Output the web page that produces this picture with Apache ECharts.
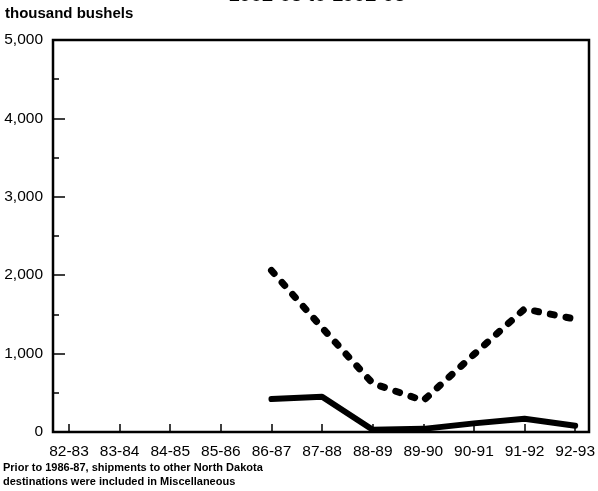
<!DOCTYPE html>
<html>
<head>
<meta charset="utf-8">
<script src="https://cdn.jsdelivr.net/npm/echarts@6/dist/echarts.min.js"></script>
<style>
html,body{margin:0;padding:0;background:#fff;}
#chart{width:598px;height:491px;}
</style>
</head>
<body>
<div id="chart"></div>
<script>
var categories = ['82-83','83-84','84-85','85-86','86-87','87-88','88-89','89-90','90-91','91-92','92-93'];
var otherNDValues = [null,null,null,null,420,450,30,40,110,170,80];
var dottedValues = [null,null,null,null,2060,1330,620,400,990,1570,1440];
var yTicks = [0,1000,2000,3000,4000,5000];
var titleText = '1982-83 to 1992-93';
var unitText = 'thousand bushels';
var noteText = 'Prior to 1986-87, shipments to other North Dakota\ndestinations were included in Miscellaneous';

var FONT = '"Liberation Sans", Arial, sans-serif';
var chart = echarts.init(document.getElementById('chart'), null, {renderer:'canvas'});
chart.setOption({
  animation:false,
  backgroundColor:'#fff',
  grid:{left:69, right:18, top:40, bottom:59},
  xAxis:{
    type:'category', data:categories, boundaryGap:false,
    axisLine:{show:false},
    axisTick:{show:true, inside:true, length:8, lineStyle:{color:'#000', width:1.5}},
    axisLabel:{color:'#000', fontFamily:FONT, fontSize:15.5, margin:12, interval:0},
    splitLine:{show:false}
  },
  yAxis:{
    type:'value', min:yTicks[0], max:yTicks[yTicks.length-1], interval:1000, offset:16,
    axisLine:{show:false},
    axisTick:{show:true, inside:true, length:12, lineStyle:{color:'#000', width:1.5}},
    minorTick:{show:true, splitNumber:2, length:6, lineStyle:{color:'#000', width:1.5}},
    axisLabel:{color:'#000', fontFamily:FONT, fontSize:15.5, margin:10,
      formatter:function(v){return v.toLocaleString('en-US');}},
    splitLine:{show:false}
  },
  series:[
    {type:'line', data:dottedValues, symbol:'none', connectNulls:false,
     lineStyle:{color:'#000', width:7, type:[4,12], cap:'round'}},
    {type:'line', data:otherNDValues, symbol:'none', connectNulls:false,
     lineStyle:{color:'#000', width:6, cap:'round', join:'round'}}
  ],
  graphic:[
    {type:'rect', shape:{x:53, y:40, width:536, height:392}, style:{fill:null, stroke:'#000', lineWidth:2.5}, z:10},
    {type:'text', style:{x:317, y:5, text:titleText, fill:'#000', font:'bold 20px '+FONT, textAlign:'center', textVerticalAlign:'bottom'}},
    {type:'text', style:{x:5, y:14, text:unitText, fill:'#000', font:'bold 15px '+FONT, textVerticalAlign:'middle'}},
    {type:'text', style:{x:3, y:461, text:noteText, fill:'#000', font:'bold 11px '+FONT, lineHeight:14, textVerticalAlign:'top'}}
  ]
});
</script>
</body>
</html>
